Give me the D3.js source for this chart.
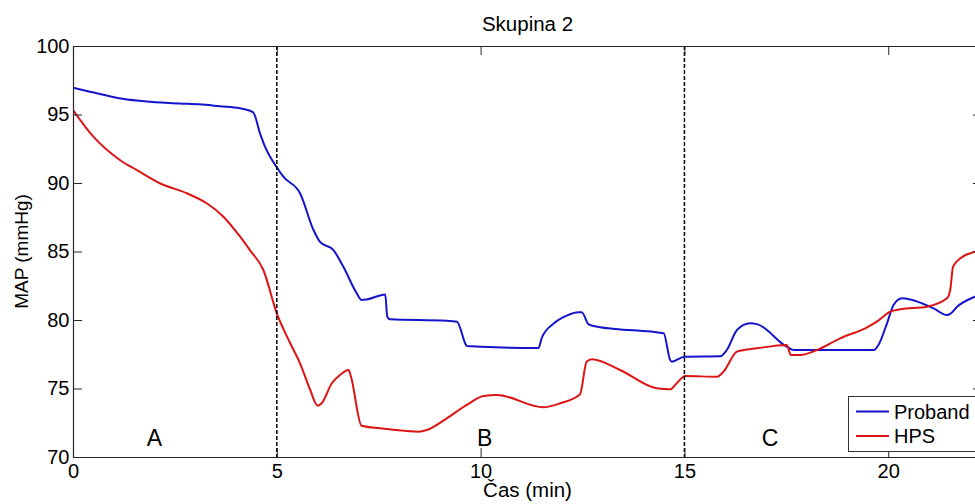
<!DOCTYPE html>
<html><head><meta charset="utf-8">
<script src="https://cdn.jsdelivr.net/npm/d3@7"></script>
<style>body{margin:0;background:#fff}svg{display:block;font-family:Arial,"Liberation Sans",sans-serif}</style>
</head><body>
<svg id="c" width="975" height="504"></svg>
<script>
const probandT = [0,0.66,1.21,1.89,2.62,3.1,3.6,4.1,4.42,4.59,4.71,5.01,5.16,5.57,5.9,6.06,6.39,6.63,6.96,7.08,7.21,7.66,7.71,7.78,9.17,9.42,9.64,9.66,10.0,11.42,11.5,11.8,12.1,12.4,12.48,12.65,12.93,13.3,14.49,14.65,14.69,15.0,15.88,16.04,16.29,16.61,16.78,17.51,17.68,19.64,19.76,19.97,20.13,20.34,20.54,21.11,21.44,21.52,21.69,22.13,22.3];
const probandV = [96.96,96.5,96.15,95.93,95.8,95.74,95.6,95.45,95.16,93.6,92.65,91.1,90.46,89.25,86.57,85.7,85.1,83.9,81.95,81.46,81.5,81.87,80.24,80.05,79.95,79.87,78.18,78.1,78.05,77.95,78.7,79.76,80.3,80.56,80.56,79.68,79.47,79.35,79.03,77.08,76.96,77.32,77.35,77.81,79.27,79.76,79.7,78.05,77.81,77.81,78.18,79.76,81.09,81.58,81.5,80.85,80.36,80.44,80.97,81.7,81.9];
const hpsT = [0,0.5,1.15,1.56,2.13,2.79,3.28,3.69,4.1,4.34,4.67,5.0,5.33,5.57,5.82,6.0,6.1,6.35,6.55,6.76,6.82,7.08,7.53,8.19,8.47,8.68,9.17,9.66,10.07,10.4,11.54,11.95,12.44,12.6,12.73,13.42,14.32,14.65,14.81,15.02,15.8,15.96,16.29,16.78,17.51,17.61,17.84,18.25,18.82,19.48,19.72,20.05,20.29,20.95,21.44,21.52,21.59,21.77,22.13,22.3];
const hpsV = [95.33,93.38,91.68,90.95,89.98,89.25,88.52,87.54,86.08,85.1,83.65,80.49,78.3,76.84,74.89,73.75,73.92,75.38,75.99,76.35,75.86,72.28,72.09,71.9,71.85,71.97,72.82,73.8,74.45,74.53,73.63,73.92,74.58,76.96,77.13,76.35,75.01,74.94,75.38,75.91,75.86,76.23,77.69,77.93,78.18,77.45,77.45,77.81,78.66,79.47,79.88,80.61,80.78,80.97,81.58,82.19,83.89,84.5,84.98,85.1];
const xTicks = [0,5,10,15,20];
const yTicks = [70,75,80,85,90,95,100];
const phaseBounds = [5,15];
const phaseLabels = ["A","B","C"];
const phaseLabelT = [2.0,10.1,17.1];
const seriesNames = ["Proband","HPS"];
const seriesColors = ["#1414cc","#dd1414"];

const L=73,R=982,T=46,B=457;
const x=d3.scaleLinear().domain([0,22.3]).range([L,R]);
const y=d3.scaleLinear().domain([70,100]).range([B,T]);
const svg=d3.select("#c");
const axc="#262626";

svg.append("defs").append("clipPath").attr("id","pc").append("rect").attr("x",L).attr("y",T).attr("width",R-L).attr("height",B-T);

const series=[probandT.map((t,i)=>[t,probandV[i]]), hpsT.map((t,i)=>[t,hpsV[i]])];
const line=d3.line().x(d=>x(d[0])).y(d=>y(d[1])).curve(d3.curveMonotoneX);
const g=svg.append("g").attr("clip-path","url(#pc)");
series.forEach((s,i)=>g.append("path").datum(s).attr("d",line).attr("fill","none").attr("stroke",seriesColors[i]).attr("stroke-width",2));

phaseBounds.forEach(t=>svg.append("line").attr("x1",x(t)).attr("x2",x(t)).attr("y1",T).attr("y2",B).attr("stroke","#000").attr("stroke-width",1.5).attr("stroke-dasharray","4,2"));

phaseLabels.forEach((l,i)=>svg.append("text").attr("x",x(phaseLabelT[i])).attr("y",445.5).attr("text-anchor","middle").attr("font-size",23).attr("fill","#000").text(l));

// axes
const fmt=d3.format("d");
const ax1=svg.append("g").attr("transform",`translate(0,${B})`).call(d3.axisBottom(x).tickValues(xTicks).tickSizeInner(-9).tickSizeOuter(0).tickPadding(6.5).tickFormat(fmt));
const ax2=svg.append("g").attr("transform",`translate(0,${T})`).call(d3.axisTop(x).tickValues(xTicks).tickSizeInner(-9).tickSizeOuter(0).tickFormat(""));
const ay1=svg.append("g").attr("transform",`translate(${L},0)`).call(d3.axisLeft(y).tickValues(yTicks).tickSizeInner(-9).tickSizeOuter(0).tickPadding(3.5).tickFormat(fmt));
const ay2=svg.append("g").attr("transform",`translate(${R},0)`).call(d3.axisRight(y).tickValues(yTicks).tickSizeInner(-9).tickSizeOuter(0).tickFormat(""));
[ax1,ax2,ay1,ay2].forEach(a=>{a.select(".domain").attr("stroke",axc).attr("stroke-width",1.2);a.selectAll(".tick line").attr("stroke",axc);a.selectAll("text").attr("font-size",20).attr("fill","#000").attr("font-family","Arial,'Liberation Sans',sans-serif");});

svg.append("text").attr("x",(L+R)/2).attr("y",30.5).attr("text-anchor","middle").attr("font-size",20.5).text("Skupina 2");
svg.append("text").attr("x",(L+R)/2).attr("y",497).attr("text-anchor","middle").attr("font-size",20.5).text("Čas (min)");
svg.append("text").attr("transform",`translate(28,${(T+B)/2}) rotate(-90)`).attr("text-anchor","middle").attr("font-size",19).text("MAP (mmHg)");

// legend
const lg=svg.append("g");
lg.append("rect").attr("x",848.5).attr("y",396.5).attr("width",132).attr("height",55).attr("fill","#fff").attr("stroke","#333").attr("stroke-width",1);
seriesNames.forEach((n,i)=>{
  const yy=411.5+i*24.5;
  lg.append("line").attr("x1",856).attr("x2",889).attr("y1",yy).attr("y2",yy).attr("stroke",seriesColors[i]).attr("stroke-width",2);
  lg.append("text").attr("x",894).attr("y",yy+7).attr("font-size",20).text(n);
});
</script>
</body></html>
